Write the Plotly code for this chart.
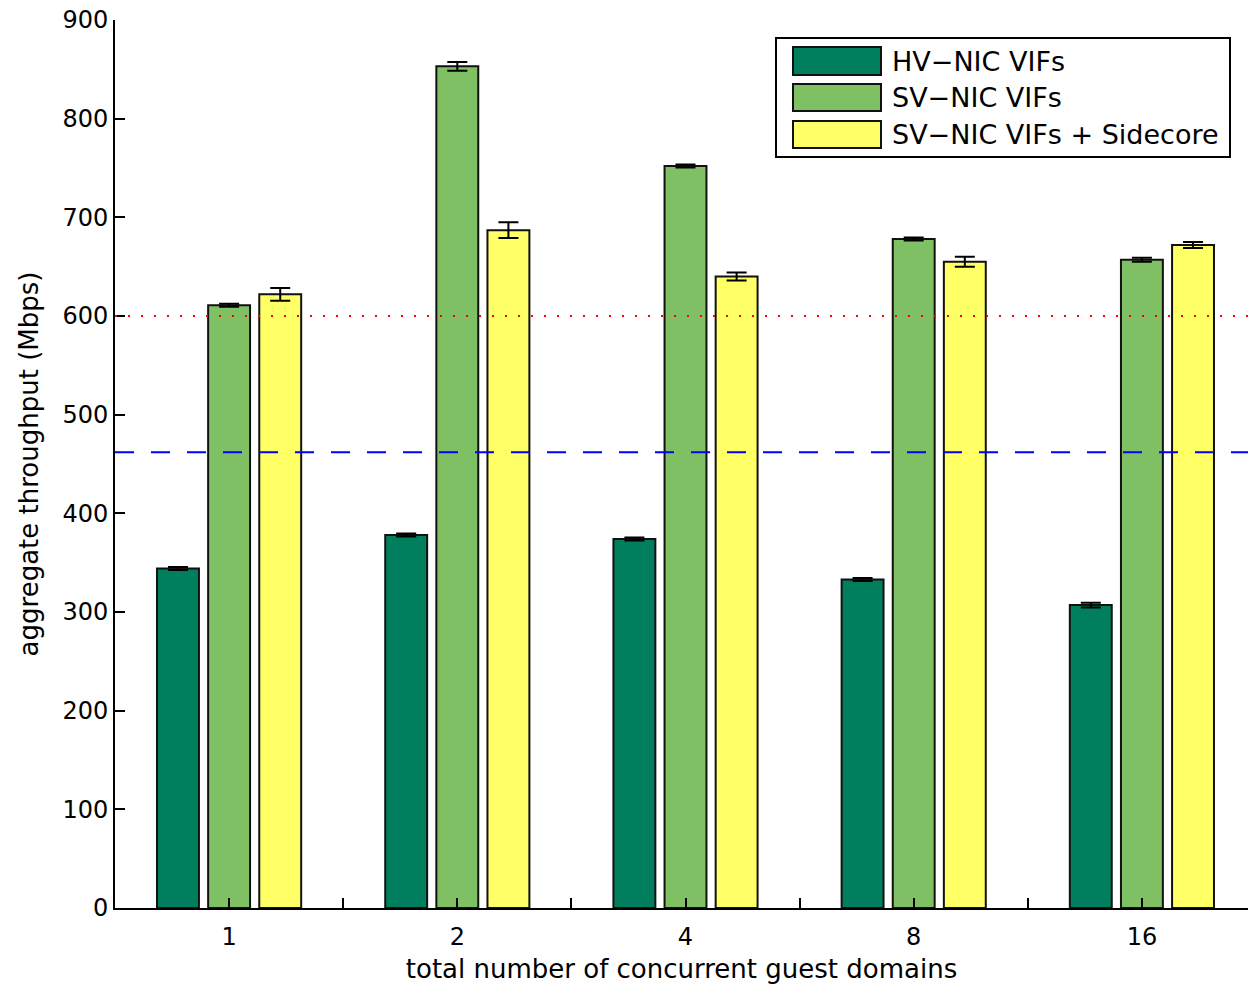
import plotly.graph_objects as go

# ---- data ----
categories = ["1", "2", "4", "8", "16"]
series_names = ["HV\u2212NIC VIFs", "SV\u2212NIC VIFs", "SV\u2212NIC VIFs + Sidecore"]
hv_nic = [344, 378, 374, 333, 307]
sv_nic = [611, 853, 752, 678, 657]
sv_sidecore = [622, 687, 640, 655, 672]
hv_err = [1.5, 1.5, 1.5, 1.5, 2.5]
sv_err = [1.5, 4.5, 1.5, 1.5, 2.0]
sc_err = [6.5, 8.0, 4.0, 5.0, 3.0]
ref_dotted = 600   # red dotted reference
ref_dashed = 462   # blue dashed reference
y_ticks = [0, 100, 200, 300, 400, 500, 600, 700, 800, 900]

colors = ["#007F5F", "#80C064", "#FFFF66"]
values = [hv_nic, sv_nic, sv_sidecore]
errors = [hv_err, sv_err, sc_err]

FONT = "DejaVu Sans"
W, H = 1248, 986
L, R, T, B = 115, 0, 20, 78

x_idx = list(range(len(categories)))

fig = go.Figure()
for name, vals, errs, col in zip(series_names, values, errors, colors):
    fig.add_trace(go.Bar(
        x=x_idx, y=vals, name=name,
        marker=dict(color=col, line=dict(color="#111111", width=2)),
        error_y=dict(type="data", array=errs, visible=True,
                     color="black", thickness=2, width=10),
        showlegend=False,
    ))

# reference lines
fig.add_shape(type="line", xref="paper", yref="y", x0=0, x1=1,
              y0=ref_dotted, y1=ref_dotted,
              line=dict(color="red", width=2, dash="2px,11px"))
fig.add_shape(type="line", xref="paper", yref="y", x0=0, x1=1,
              y0=ref_dashed, y1=ref_dashed,
              line=dict(color="blue", width=2, dash="19px,17px"))

# custom legend (positions in page pixels, converted to plot-area paper coords)
pw, ph = W - L - R, H - T - B
def px(x):
    return (x - L) / pw
def py(y):
    return (H - B - y) / ph

fig.add_shape(type="rect", xref="paper", yref="paper",
              x0=px(776), x1=px(1230), y0=py(157), y1=py(38),
              line=dict(color="black", width=2), fillcolor="white", layer="above")
rows = [(47, 75), (84, 111), (121, 148)]
for (y0, y1), name, col in zip(rows, series_names, colors):
    fig.add_shape(type="rect", xref="paper", yref="paper",
                  x0=px(793), x1=px(881), y0=py(y1), y1=py(y0),
                  line=dict(color="#111111", width=2), fillcolor=col, layer="above")
    fig.add_annotation(xref="paper", yref="paper", x=px(890), y=py((y0 + y1) / 2),
                       text=name, showarrow=False, xanchor="left", yanchor="middle",
                       font=dict(family=FONT, size=27, color="black"))

tickvals = [v / 2 for v in range(0, 2 * len(categories))]
ticktext = [categories[int(v)] if v == int(v) else "" for v in tickvals]

fig.update_layout(
    width=W, height=H,
    margin=dict(l=L, r=R, t=T, b=B, pad=0),
    paper_bgcolor="white", plot_bgcolor="white",
    barmode="group", bargap=0.328, bargroupgap=0.18,
    font=dict(family=FONT, size=24, color="black"),
    xaxis=dict(
        range=[-0.5, 4.5 - 8 / 228],
        tickmode="array", tickvals=tickvals, ticktext=ticktext,
        ticks="inside", ticklen=10, tickwidth=1.5, tickcolor="black",
        showline=True, linecolor="black", linewidth=2,
        showgrid=False, zeroline=False,
        tickfont=dict(family=FONT, size=24),
        ticklabelstandoff=6,
        title=dict(text="total number of concurrent guest domains",
                   font=dict(family=FONT, size=26), standoff=10),
    ),
    yaxis=dict(
        range=[0, 900],
        tickmode="array", tickvals=y_ticks,
        ticks="inside", ticklen=10, tickwidth=1.5, tickcolor="black",
        showline=True, linecolor="black", linewidth=2,
        showgrid=False, zeroline=False,
        tickfont=dict(family=FONT, size=24),
        title=dict(text="aggregate throughput (Mbps)",
                   font=dict(family=FONT, size=26), standoff=16),
    ),
)

fig.write_html(
    "out.html",
    config={"displayModeBar": False},
    post_script="document.body.style.margin='0';document.body.style.overflow='hidden';",
)
